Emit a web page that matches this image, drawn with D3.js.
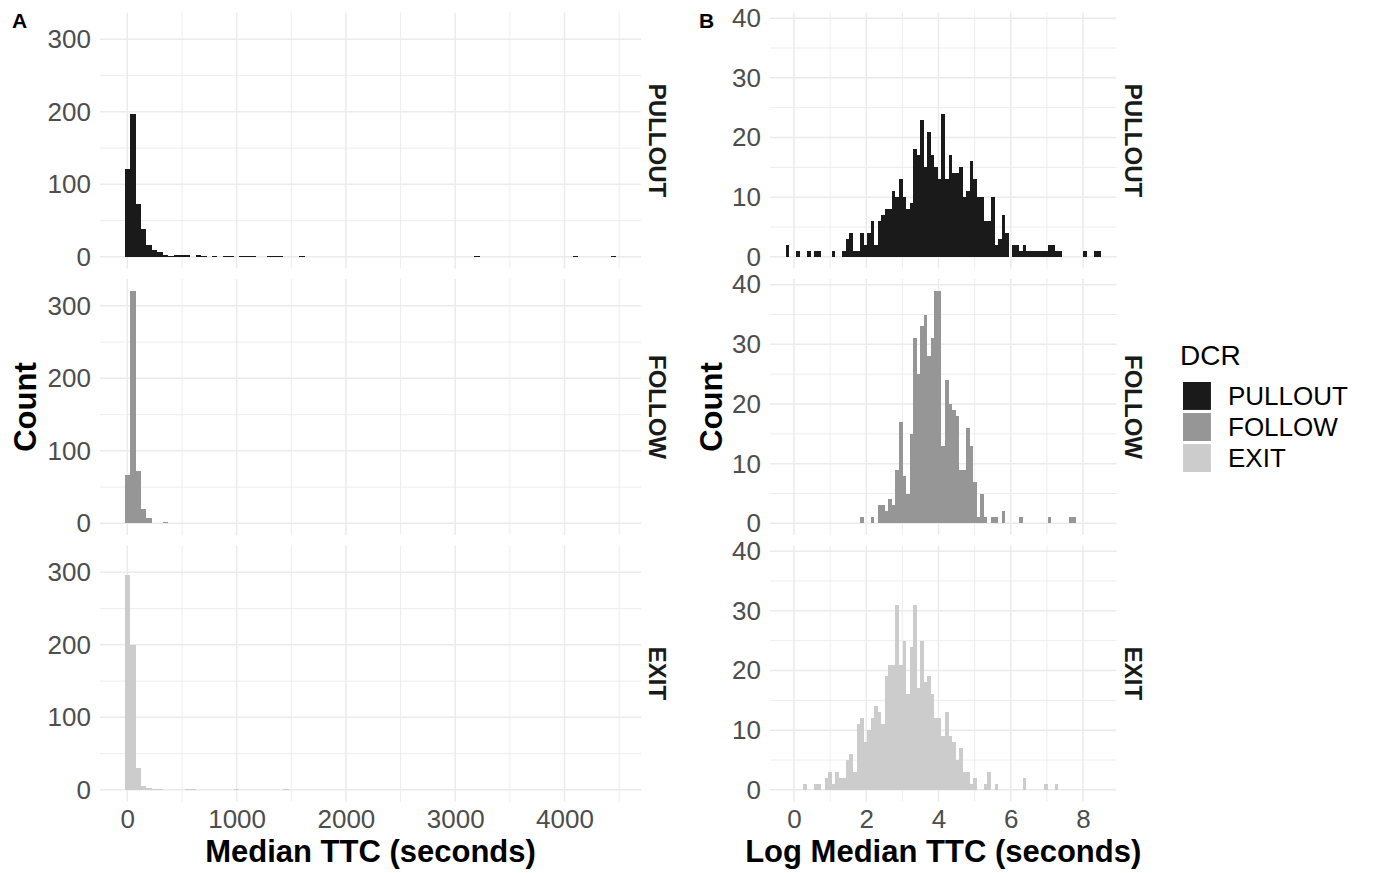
<!DOCTYPE html>
<html>
<head>
<meta charset="utf-8">
<script src="https://cdn.jsdelivr.net/npm/d3@7"></script>
<style>
  body { margin: 0; background: #fff; }
  svg { font-family: "Liberation Sans", Arial, sans-serif; }
</style>
</head>
<body>
<div id="graf"></div>
<script>
// Data
const facets = ["PULLOUT", "FOLLOW", "EXIT"]

// A: Median TTC, bins of 50 s (first bin centred on 0)
const ttcBinStart = -25
const ttcBinWidth = 50
const ttcPullout = [
  121, 197, 73, 39, 17, 10, 7, 3, 1, 2, 2, 2, 0, 2, 1, 0, 1, 0, 1, 1,
  0, 1, 1, 1, 0, 0, 1, 1, 1, 0, 0, 0, 1, 0, 0, 0, 0, 0, 0, 0,
  0, 0, 0, 0, 0, 0, 0, 0, 0, 0, 0, 0, 0, 0, 0, 0, 0, 0, 0, 0,
  0, 0, 0, 0, 1, 0, 0, 0, 0, 0, 0, 0, 0, 0, 0, 0, 0, 0, 0, 0,
  0, 0, 1, 0, 0, 0, 0, 0, 0, 1
]
const ttcFollow = [
  67, 321, 72, 20, 7, 1, 1, 2, 0, 0, 0, 1, 0, 0, 0, 0, 0, 0, 0, 0,
  0, 0, 0, 1, 0, 0, 0, 0, 0, 0, 0, 0, 0, 0, 0, 0, 0, 0, 0, 0,
  0, 0, 0, 1, 0, 0, 0, 1, 0, 0, 0, 0, 0, 0, 0, 0, 0, 0, 0, 0,
  0, 0, 0, 0, 0, 0, 0, 0, 0, 0, 0, 0, 0, 0, 0, 0, 0, 0, 0, 0,
  0, 0, 0, 0, 0, 0, 0, 0, 0, 0
]
const ttcExit = [
  296, 200, 30, 6, 3, 1, 1, 0, 0, 0, 0, 1, 1, 0, 0, 0, 0, 0, 0, 0,
  1, 0, 0, 0, 0, 0, 0, 0, 0, 1, 0, 0, 0, 0, 0, 0, 0, 0, 0, 0,
  0, 0, 0, 0, 0, 0, 0, 0, 0, 0, 0, 0, 0, 0, 0, 0, 0, 0, 0, 0,
  0, 0, 0, 0, 0, 0, 0, 0, 0, 0, 0, 0, 0, 0, 0, 0, 0, 0, 0, 0,
  0, 0, 0, 0, 0, 0, 0, 0, 0, 0
]
const ttcXTicks = [0, 1000, 2000, 3000, 4000]
const ttcYTicks = [0, 100, 200, 300]

// B: log of median TTC
const logBinStart = -0.23
const logBinWidth = 0.098
const logPullout = [
  2, 0, 0, 1, 0, 0, 1, 0, 1, 1, 0, 0, 0, 1, 0, 0, 1, 3, 4, 1,
  1, 4, 2, 4, 6, 2, 6, 7, 8, 8, 11, 10, 13, 10, 8, 9, 18, 17, 23, 15,
  21, 17, 15, 13, 24, 13, 17, 14, 14, 15, 10, 11, 16, 13, 10, 10, 6, 6, 10, 2,
  3, 7, 4, 0, 2, 2, 1, 2, 1, 1, 1, 1, 1, 1, 2, 2, 1, 1, 0, 0,
  0, 0, 0, 0, 1, 0, 0, 1, 1
]
const logFollow = [
  0, 0, 0, 0, 0, 0, 0, 0, 0, 0, 0, 0, 0, 0, 0, 0, 0, 0, 0, 0,
  0, 1, 0, 0, 1, 0, 3, 3, 2, 4, 3, 9, 17, 8, 5, 15, 31, 25, 33, 35,
  28, 31, 39, 39, 13, 24, 20, 19, 18, 9, 9, 16, 13, 7, 1, 5, 1, 0, 1, 1,
  0, 2, 0, 0, 0, 0, 1, 0, 0, 0, 0, 0, 0, 0, 1, 0, 0, 0, 0, 0,
  1, 1, 0, 0, 0, 0, 0, 0, 0
]
const logExit = [
  0, 0, 0, 0, 0, 1, 0, 0, 1, 1, 0, 2, 3, 1, 3, 2, 2, 5, 6, 3,
  11, 12, 8, 10, 12, 14, 13, 11, 19, 21, 21, 31, 21, 25, 16, 24, 31, 17, 25, 18,
  19, 16, 12, 12, 9, 13, 9, 8, 5, 7, 3, 3, 1, 2, 0, 0, 1, 3, 0, 1,
  0, 0, 0, 0, 0, 0, 0, 2, 0, 0, 0, 0, 0, 1, 0, 0, 1, 0, 0, 0,
  0, 0, 0, 0, 0, 0, 0, 0, 0
]
const logXTicks = [0, 2, 4, 6, 8]
const logYTicks = [0, 10, 20, 30, 40]

// Layout
const greys = { PULLOUT: "#1a1a1a", FOLLOW: "#969696", EXIT: "#cccccc" }
const panelTops = [12.5, 279, 545.5]
const panelH = 256
const gridColor = "#ebebeb"
const tickColor = "#4d4d4d"

const svg = d3
  .select("#graf")
  .append("svg")
  .attr("width", 1375)
  .attr("height", 873)

const plots = [
  {
    tag: "A", tagX: 12, left: 100, right: 641, countX: 36,
    binStart: ttcBinStart, binWidth: ttcBinWidth,
    counts: [ttcPullout, ttcFollow, ttcExit],
    xTicks: ttcXTicks, yTicks: ttcYTicks,
    xTitle: "Median TTC (seconds)",
  },
  {
    tag: "B", tagX: 699, left: 770, right: 1116.5, countX: 722,
    binStart: logBinStart, binWidth: logBinWidth,
    counts: [logPullout, logFollow, logExit],
    xTicks: logXTicks, yTicks: logYTicks,
    xTitle: "Log Median TTC (seconds)",
  },
]

// minor grid = halfway between the major ticks
const minorOf = (ticks, domain) => {
  const step = ticks[1] - ticks[0]
  return d3
    .range(ticks[0] - step / 2, domain[1], step)
    .filter((v) => v > domain[0] && v < domain[1])
}

plots.forEach((p) => {
  const nBins = p.counts[0].length
  const lo = p.binStart
  const hi = p.binStart + nBins * p.binWidth
  const padX = (hi - lo) * 0.05
  const x = d3
    .scaleLinear()
    .domain([lo - padX, hi + padX])
    .range([p.left, p.right])

  const maxC = d3.max(p.counts, (c) => d3.max(c))
  const y = d3
    .scaleLinear()
    .domain([-0.05 * maxC, 1.05 * maxC])
    .range([panelH, 0])

  const xMinor = minorOf(p.xTicks, x.domain())
  const yMinor = minorOf(p.yTicks, y.domain())

  facets.forEach((f, i) => {
    const g = svg.append("g").attr("transform", `translate(0, ${panelTops[i]})`)

    // grid
    g.selectAll(".vminor")
      .data(xMinor)
      .join("line")
      .attr("x1", (d) => x(d)).attr("x2", (d) => x(d))
      .attr("y1", 0).attr("y2", panelH)
      .attr("stroke", gridColor).attr("stroke-width", 0.9)
    g.selectAll(".hminor")
      .data(yMinor)
      .join("line")
      .attr("x1", p.left).attr("x2", p.right)
      .attr("y1", (d) => y(d)).attr("y2", (d) => y(d))
      .attr("stroke", gridColor).attr("stroke-width", 0.9)
    g.append("g")
      .selectAll("line")
      .data(p.xTicks)
      .join("line")
      .attr("x1", (d) => x(d)).attr("x2", (d) => x(d))
      .attr("y1", 0).attr("y2", panelH)
      .attr("stroke", gridColor).attr("stroke-width", 1.5)
    g.append("g")
      .selectAll("line")
      .data(p.yTicks)
      .join("line")
      .attr("x1", p.left).attr("x2", p.right)
      .attr("y1", (d) => y(d)).attr("y2", (d) => y(d))
      .attr("stroke", gridColor).attr("stroke-width", 1.5)

    // bars
    const bins = p.counts[i]
      .map((c, k) => ({ x0: p.binStart + k * p.binWidth, x1: p.binStart + (k + 1) * p.binWidth, c }))
      .filter((d) => d.c > 0)
    g.append("g")
      .selectAll("rect")
      .data(bins)
      .join("rect")
      .attr("x", (d) => x(d.x0))
      .attr("width", (d) => x(d.x1) - x(d.x0))
      .attr("y", (d) => y(d.c))
      .attr("height", (d) => y(0) - y(d.c))
      .attr("fill", greys[f])
      .attr("shape-rendering", "crispEdges")

    // y tick labels
    const yAxisGroup = g
      .append("g")
      .attr("transform", `translate(${p.left}, 0)`)
      .call(d3.axisLeft(y).tickValues(p.yTicks).tickFormat(d3.format("d")).tickSize(0).tickPadding(9))
    yAxisGroup.select(".domain").remove()
    yAxisGroup
      .attr("font-size", null).attr("font-family", null)
      .selectAll("text")
      .attr("fill", tickColor)
      .style("font-size", "26px")

    // x tick labels on the bottom facet
    if (i === facets.length - 1) {
      const xAxisGroup = g
        .append("g")
        .attr("transform", `translate(0, ${panelH})`)
        .call(d3.axisBottom(x).tickValues(p.xTicks).tickFormat(d3.format("d")).tickSize(0).tickPadding(8))
      xAxisGroup.select(".domain").remove()
      xAxisGroup
        .attr("font-size", null).attr("font-family", null)
        .selectAll("text")
        .attr("fill", tickColor)
        .style("font-size", "26px")
    }

    // strip label
    g.append("text")
      .attr("transform", `translate(${p.right + 8}, ${panelH / 2}) rotate(90)`)
      .attr("text-anchor", "middle")
      .attr("font-weight", "bold")
      .attr("font-size", 24)
      .attr("fill", "#1a1a1a")
      .text(f)
  })

  // axis titles
  const midY = (panelTops[0] + panelTops[2] + panelH) / 2
  svg.append("text")
    .attr("x", (p.left + p.right) / 2)
    .attr("y", 862)
    .attr("text-anchor", "middle")
    .attr("font-weight", "bold")
    .attr("font-size", 31)
    .text(p.xTitle)
  svg.append("text")
    .attr("transform", `translate(${p.countX}, ${midY}) rotate(-90)`)
    .attr("text-anchor", "middle")
    .attr("font-weight", "bold")
    .attr("font-size", 31)
    .text("Count")

  // panel tag
  svg.append("text")
    .attr("x", p.tagX)
    .attr("y", 28)
    .attr("font-weight", "bold")
    .attr("font-size", 21)
    .text(p.tag)
})

// Legend
const legend = svg.append("g").attr("transform", "translate(1180, 0)")
legend.append("text")
  .attr("x", 0).attr("y", 365)
  .attr("font-size", 28)
  .text("DCR")
const key = d3.scaleBand().domain(facets).range([382, 472]).paddingInner(0.1)
legend.selectAll("rect")
  .data(facets)
  .join("rect")
  .attr("x", 3)
  .attr("y", (d) => key(d))
  .attr("width", key.bandwidth())
  .attr("height", key.bandwidth())
  .attr("fill", (d) => greys[d])
legend.selectAll(".lab")
  .data(facets)
  .join("text")
  .attr("x", 48)
  .attr("y", (d) => key(d) + key.bandwidth() / 2)
  .attr("dy", "0.35em")
  .attr("font-size", 26)
  .text((d) => d)
</script>
</body>
</html>
